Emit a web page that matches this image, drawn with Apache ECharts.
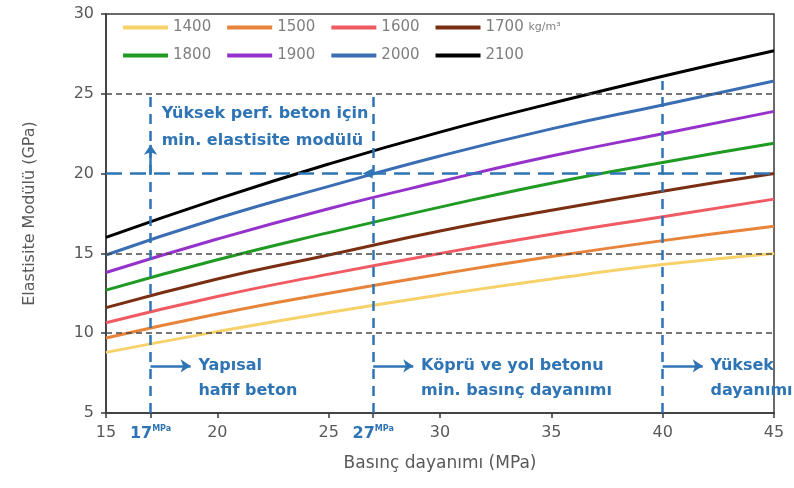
<!DOCTYPE html>
<html>
<head>
<meta charset="utf-8">
<script src="https://cdn.jsdelivr.net/npm/echarts@6/dist/echarts.min.js"></script>
<style>
  html, body { margin: 0; padding: 0; background: #fff; }
  #chart { width: 794px; height: 488px; }
</style>
</head>
<body>
<div id="chart"></div>
<script>
// Compressive strength (MPa) at which each curve is sampled
const strength = [15, 20, 25, 30, 35, 40, 45];

// Density classes (kg/m³)
const densities = ['1400', '1500', '1600', '1700', '1800', '1900', '2000', '2100'];

// Modulus of elasticity (GPa) per density class
const e1400 = [8.8, 10.1, 11.3, 12.4, 13.4, 14.3, 15.0];
const e1500 = [9.7, 11.2, 12.5, 13.7, 14.8, 15.8, 16.7];
const e1600 = [10.65, 12.3, 13.7, 15.0, 16.2, 17.3, 18.4];
const e1700 = [11.6, 13.4, 14.9, 16.4, 17.7, 18.9, 20.0];
const e1800 = [12.7, 14.6, 16.3, 17.9, 19.4, 20.7, 21.9];
const e1900 = [13.8, 15.9, 17.8, 19.5, 21.1, 22.5, 23.9];
const e2000 = [14.9, 17.2, 19.2, 21.1, 22.8, 24.3, 25.8];
const e2100 = [16.0, 18.4, 20.6, 22.6, 24.4, 26.1, 27.7];

const moduli = [e1400, e1500, e1600, e1700, e1800, e1900, e2000, e2100];
const colors = ['#f7d26a', '#e8843a', '#f05a63', '#7a2e12', '#1f9a22', '#9632cc', '#3a6db3', '#000000'];

// Axis ticks
const xTicks = [15, 17, 20, 25, 27, 30, 35, 40, 45];
const xMarked = [17, 27];          // strength thresholds shown in blue
const yTicks = [5, 10, 15, 20, 25, 30];

// Reference levels
const limitStrengths = [17, 27, 40];   // MPa
const minModulus = 20;                 // GPa
const dashedLevels = [10, 15, 25];     // GPa

const BLUE = '#2f74b5';
const GRAY = '#595959';
const FONT = '"DejaVu Sans", "Noto Sans", sans-serif';

const chart = echarts.init(document.getElementById('chart'), null, { renderer: 'canvas' });

const curveSeries = densities.map((d, k) => ({
  name: d,
  type: 'line',
  smooth: true,
  showSymbol: false,
  symbol: 'none',
  silent: true,
  z: 3,
  color: colors[k],
  lineStyle: { width: 3, color: colors[k] },
  data: strength.map((s, i) => [s, moduli[k][i]])
}));

const arrowLen = 1.8;
const arrowY = 7.95;

const guideSeries = {
  name: 'guides',
  type: 'line',
  data: [],
  silent: true,
  z: 2,
  markLine: {
    silent: true,
    animation: false,
    symbol: ['none', 'none'],
    label: { show: false },
    data: [
      // grey dashed levels
      ...dashedLevels.map(v => [
        { coord: [15, v], lineStyle: { color: '#4a4a4a', width: 1.6, type: [6, 4] } },
        { coord: [45, v] }
      ]),
      // blue minimum modulus level
      [
        { coord: [15, minModulus], lineStyle: { color: BLUE, width: 2.5, type: [16, 8] } },
        { coord: [45, minModulus] }
      ],
      // vertical strength limits
      [
        { coord: [limitStrengths[0], 5], lineStyle: { color: BLUE, width: 2.5, type: [10, 7] } },
        { coord: [limitStrengths[0], 25] }
      ],
      [
        { coord: [limitStrengths[1], 5], lineStyle: { color: BLUE, width: 2.5, type: [10, 7] } },
        { coord: [limitStrengths[1], 25] }
      ],
      [
        { coord: [limitStrengths[2], 5], lineStyle: { color: BLUE, width: 2.5, type: [10, 7] } },
        { coord: [limitStrengths[2], 25.8] }
      ],
      // arrows
      ...limitStrengths.map(s => [
        { coord: [s, arrowY], symbol: 'none', lineStyle: { color: BLUE, width: 2.5, type: 'solid' } },
        { coord: [s + arrowLen, arrowY], symbol: 'arrow', symbolSize: 10 }
      ]),
      [
        { coord: [limitStrengths[0], minModulus], symbol: 'none', lineStyle: { color: BLUE, width: 2.5, type: 'solid' } },
        { coord: [limitStrengths[0], 21.8], symbol: 'arrow', symbolSize: 10 }
      ]
    ]
  },
  markPoint: {
    silent: true,
    animation: false,
    label: { show: false },
    data: [
      { coord: [limitStrengths[1] - 0.25, minModulus], symbol: 'triangle', symbolRotate: 90,
        symbolSize: [10, 10], itemStyle: { color: BLUE } }
    ]
  }
};

const legendBase = {
  left: 118,
  icon: 'rect',
  itemWidth: 45,
  itemHeight: 4,
  itemGap: 16,
  selectedMode: false,
  textStyle: {
    color: '#7f7f7f', fontSize: 15, fontFamily: FONT,
    rich: { u: { color: '#7f7f7f', fontSize: 11, fontFamily: FONT } }
  },
  formatter: n => n === '1700' ? '1700 {u|kg/m³}' : n
};

chart.setOption({
  animation: false,
  backgroundColor: '#fff',
  grid: {
    left: 106, right: 20, top: 14, bottom: 75,
    show: true, borderColor: '#3a3a3a', borderWidth: 1.5, backgroundColor: 'transparent'
  },
  legend: [
    Object.assign({}, legendBase, { top: 15, data: densities.slice(0, 4) }),
    Object.assign({}, legendBase, { top: 43, data: densities.slice(4) })
  ],
  xAxis: {
    type: 'value', min: 15, max: 45, interval: 5,
    name: 'Basınç dayanımı (MPa)',
    nameLocation: 'middle', nameGap: 42,
    nameTextStyle: { color: GRAY, fontSize: 17, fontFamily: FONT },
    axisLine: { show: true, lineStyle: { color: '#3a3a3a', width: 1.5 } },
    axisTick: { show: true, length: 5, customValues: xTicks, lineStyle: { color: '#3a3a3a', width: 1.5 } },
    splitLine: { show: false },
    axisLabel: {
      customValues: xTicks,
      margin: 12,
      color: GRAY, fontSize: 16, fontFamily: FONT,
      formatter: v => xMarked.indexOf(v) >= 0 ? '{b|' + v + '}{s|MPa}' : String(v),
      rich: {
        b: { color: BLUE, fontSize: 16, fontWeight: 'bold', fontFamily: FONT },
        s: { color: BLUE, fontSize: 8, fontWeight: 'bold', fontFamily: FONT, padding: [0, 0, 9, 0] }
      }
    }
  },
  yAxis: {
    type: 'value', min: 5, max: 30, interval: 5,
    name: 'Elastisite Modülü (GPa)',
    nameLocation: 'middle', nameGap: 68, nameRotate: 90,
    nameTextStyle: { color: GRAY, fontSize: 16, fontFamily: FONT },
    axisLine: { show: true, lineStyle: { color: '#3a3a3a', width: 1.5 } },
    axisTick: { show: true, length: 5, lineStyle: { color: '#3a3a3a', width: 1.5 } },
    splitLine: { show: false },
    axisLabel: { margin: 12, color: GRAY, fontSize: 16, fontFamily: FONT,
      customValues: yTicks }
  },
  series: [guideSeries, ...curveSeries]
});

// Blue annotation texts placed in data coordinates
const textOffset = 2.15;
const notes = [
  { x: limitStrengths[0] + 0.5, y: 23.75, text: 'Yüksek perf. beton için' },
  { x: limitStrengths[0] + 0.5, y: 22.05, text: 'min. elastisite modülü' },
  { x: limitStrengths[0] + textOffset, y: arrowY, text: 'Yapısal' },
  { x: limitStrengths[0] + textOffset, y: 6.4, text: 'hafif beton' },
  { x: limitStrengths[1] + textOffset, y: arrowY, text: 'Köprü ve yol betonu' },
  { x: limitStrengths[1] + textOffset, y: 6.4, text: 'min. basınç dayanımı' },
  { x: limitStrengths[2] + textOffset, y: arrowY, text: 'Yüksek' },
  { x: limitStrengths[2] + textOffset, y: 6.4, text: 'dayanımı' }
];

chart.setOption({
  graphic: notes.map(n => {
    const p = chart.convertToPixel({ xAxisIndex: 0, yAxisIndex: 0 }, [n.x, n.y]);
    return {
      type: 'text', x: p[0], y: p[1], silent: true, z: 10,
      style: {
        text: n.text, fill: BLUE, font: 'bold 16px ' + FONT,
        textAlign: 'left', textVerticalAlign: 'middle', verticalAlign: 'middle'
      }
    };
  })
});
</script>
</body>
</html>
